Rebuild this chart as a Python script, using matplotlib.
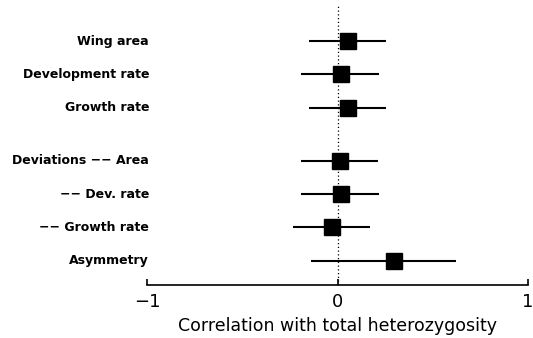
import matplotlib.pyplot as plt
import numpy as np

labels = ['Wing area', 'Development rate', 'Growth rate',
          'Deviations \u2212\u2212 Area', '\u2212\u2212 Dev. rate',
          '\u2212\u2212 Growth rate', 'Asymmetry']
rows = [0, 1, 2, 3.6, 4.6, 5.6, 6.6]
r = [0.055, 0.02, 0.055, 0.015, 0.02, -0.03, 0.295]
lo = [-0.15, -0.19, -0.15, -0.19, -0.19, -0.235, -0.14]
hi = [0.255, 0.22, 0.255, 0.215, 0.22, 0.17, 0.62]

fig = plt.figure(figsize=(5.33, 3.38), dpi=100)
ax = fig.add_axes([0.276, 0.157, 0.7146, 0.828])

ax.axvline(0, color='black', linestyle=(0, (1, 2)), linewidth=0.9)
ax.hlines(rows, lo, hi, color='black', linewidth=1.5)
ax.plot(r, rows, 's', color='black', markersize=11.5)

for y, lab in zip(rows, labels):
    ax.text(0.005, y, lab, transform=ax.get_yaxis_transform(),
            ha='right', va='center', fontsize=9, fontweight='semibold')

ax.set_xlim(-1, 1)
ax.set_ylim(7.33, -1.08)
ax.set_xticks([-1, 0, 1])
ax.set_xticklabels(['\u22121', '0', '1'])
ax.set_yticks([])
ax.tick_params(axis='x', direction='in', length=4, width=1.2, labelsize=13, pad=6)
for s in ['top', 'right', 'left']:
    ax.spines[s].set_visible(False)
ax.spines['bottom'].set_linewidth(1.2)
ax.set_xlabel('Correlation with total heterozygosity', fontsize=12.5, labelpad=4)

fig.savefig('out.png', dpi=100)
